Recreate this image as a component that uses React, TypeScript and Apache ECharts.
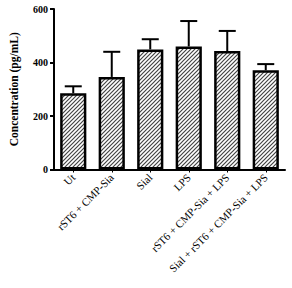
import React, { useEffect, useRef } from "react";
import * as echarts from "echarts";

const categories = [
  "Ut",
  "rST6 + CMP-Sia",
  "Sial",
  "LPS",
  "rST6 + CMP-Sia + LPS",
  "Sial + rST6 + CMP-Sia + LPS",
];
const means = [285, 346, 449, 460, 443, 371];
const errTops = [311, 440, 487, 555, 518, 394];
const yTicks = [0, 200, 400, 600];

function makeHatch(): HTMLCanvasElement {
  const c = document.createElement("canvas");
  const s = 4;
  c.width = s;
  c.height = s;
  const ctx = c.getContext("2d")!;
  ctx.fillStyle = "#ffffff";
  ctx.fillRect(0, 0, s, s);
  ctx.strokeStyle = "#444444";
  ctx.lineWidth = 1.2;
  ctx.beginPath();
  ctx.moveTo(-1, s + 1);
  ctx.lineTo(s + 1, -1);
  ctx.moveTo(-1, 1);
  ctx.lineTo(1, -1);
  ctx.moveTo(s - 1, s + 1);
  ctx.lineTo(s + 1, s - 1);
  ctx.stroke();
  return c;
}

export default function App() {
  const ref = useRef<HTMLDivElement>(null);
  useEffect(() => {
    if (!ref.current) return;
    const chart = echarts.init(ref.current, null, { renderer: "svg" });
    const hatch = makeHatch();
    const serif = "Liberation Serif";
    chart.setOption({
      animation: false,
      backgroundColor: "#ffffff",
      grid: { left: 43, right: 7, top: 9, bottom: 118.5, containLabel: false },
      xAxis: {
        type: "category",
        data: categories,
        axisLine: { show: true, lineStyle: { color: "#000", width: 2 } },
        axisTick: { show: true, alignWithLabel: true, length: 3, lineStyle: { color: "#000", width: 1 } },
        axisLabel: {
          rotate: 45,
          interval: 0,
          margin: 6,
          fontFamily: serif,
          fontSize: 11,
          color: "#000",
        },
      },
      yAxis: {
        type: "value",
        min: 0,
        max: 600,
        interval: 200,
        name: "Concentration (pg/mL)",
        nameLocation: "middle",
        nameGap: 34,
        nameTextStyle: {
          fontFamily: serif,
          fontWeight: "bold",
          fontSize: 11.5,
          color: "#000",
        },
        axisLine: { show: true, lineStyle: { color: "#000", width: 2 } },
        axisTick: { show: true, length: 4, lineStyle: { color: "#000", width: 2 } },
        axisLabel: {
          fontFamily: serif,
          fontWeight: "bold",
          fontSize: 10,
          color: "#000",
          margin: 6,
          formatter: (v: number) => (yTicks.includes(v) ? String(v) : ""),
        },
        splitLine: { show: false },
      },
      series: [
        {
          type: "bar",
          data: means,
          barWidth: "68%",
          itemStyle: {
            color: { image: hatch, repeat: "repeat" },
            borderColor: "#000",
            borderWidth: 2.5,
          },
          z: 2,
        },
        {
          type: "custom",
          data: categories.map((_, i) => [i, means[i], errTops[i]]),
          z: 3,
          clip: false,
          renderItem: (params: any, api: any) => {
            const i = api.value(0);
            const p0 = api.coord([i, api.value(1)]);
            const p1 = api.coord([i, api.value(2)]);
            const half = 8.5;
            return {
              type: "group",
              children: [
                {
                  type: "line",
                  shape: { x1: p0[0], y1: p0[1], x2: p1[0], y2: p1[1] },
                  style: { stroke: "#000", lineWidth: 2 },
                },
                {
                  type: "line",
                  shape: { x1: p1[0] - half, y1: p1[1], x2: p1[0] + half, y2: p1[1] },
                  style: { stroke: "#000", lineWidth: 2 },
                },
              ],
            };
          },
        },
      ],
    });
    return () => chart.dispose();
  }, []);
  return (
    <div
      ref={ref}
      style={{ position: "absolute", left: 0, top: 0, width: 292, height: 288 }}
    />
  );
}
